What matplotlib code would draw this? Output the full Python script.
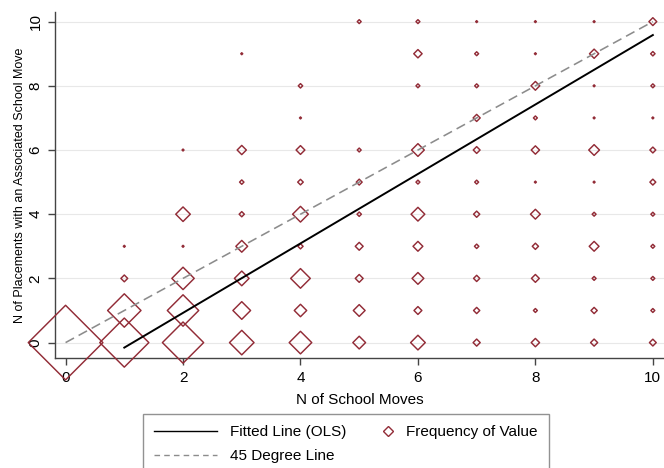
import numpy as np
import matplotlib
matplotlib.use("Agg")
import matplotlib.pyplot as plt
from matplotlib.lines import Line2D
from matplotlib.legend_handler import HandlerLine2D

plt.rcParams['font.family'] = ['Liberation Sans', 'DejaVu Sans']

# N of school moves, N of placements with an associated move, frequency (marker area)
school_moves = [0,
                1, 1, 1, 1,
                2, 2, 2, 2, 2, 2,
                3, 3, 3, 3, 3, 3, 3, 3,
                4, 4, 4, 4, 4, 4, 4, 4, 4,
                5, 5, 5, 5, 5, 5, 5, 5,
                6, 6, 6, 6, 6, 6, 6, 6, 6, 6,
                7, 7, 7, 7, 7, 7, 7, 7, 7, 7, 7,
                8, 8, 8, 8, 8, 8, 8, 8, 8, 8, 8,
                9, 9, 9, 9, 9, 9, 9, 9, 9, 9, 9,
                10, 10, 10, 10, 10, 10, 10, 10, 10, 10, 10]
placements = [0,
              0, 1, 2, 3,
              0, 1, 2, 3, 4, 6,
              0, 1, 2, 3, 4, 5, 6, 9,
              0, 1, 2, 3, 4, 5, 6, 7, 8,
              0, 1, 2, 3, 4, 5, 6, 10,
              0, 1, 2, 3, 4, 5, 6, 8, 9, 10,
              0, 1, 2, 3, 4, 5, 6, 7, 8, 9, 10,
              0, 1, 2, 3, 4, 5, 6, 7, 8, 9, 10,
              0, 1, 2, 3, 4, 5, 6, 7, 8, 9, 10,
              0, 1, 2, 3, 4, 5, 6, 7, 8, 9, 10]
frequency = [1444,
             625, 289, 12, 1,
             441, 256, 130, 1, 55, 1,
             156, 81, 56, 36, 7, 5, 22, 1,
             132, 40, 100, 7, 64, 8, 20, 1, 5,
             42, 36, 16, 16, 5, 9, 4, 4,
             56, 16, 36, 25, 49, 4, 42, 4, 18, 4,
             13, 10, 10, 5, 10, 4, 12, 13, 4, 4, 1,
             18, 4, 16, 10, 25, 1, 18, 4, 20, 1, 1,
             13, 10, 4, 25, 4, 1, 30, 1, 1, 22, 1,
             12, 4, 4, 4, 4, 9, 9, 1, 4, 5, 16]

# OLS fit
ols_intercept = -1.238
ols_slope = 1.082
fit_range = [1, 10]

marker_color = '#922C37'

fig = plt.figure(figsize=(6.64, 4.68), dpi=100)
ax = fig.add_axes([55 / 664, 1 - 358 / 468, 1 - 55 / 664, (358 - 12) / 468])

ax.set_xlim(-0.18, 10.19)
ax.set_ylim(-0.48, 10.3)

ax.grid(axis='y', color='#e8e8e8', linewidth=0.8)
ax.set_axisbelow(True)

ax.scatter(school_moves, placements, s=np.array(frequency) * 1.0, marker='D',
           facecolors='none', edgecolors=marker_color, linewidths=1.05,
           clip_on=False, zorder=3)

xf = np.array(fit_range)
ax.plot(xf, ols_intercept + ols_slope * xf, color='black', linewidth=1.4, zorder=4)
ax.plot([0, 10], [0, 10], color='#8c8c8c', linewidth=1.15, dashes=(6, 3.3), zorder=4)

ax.set_xticks(range(0, 11, 2))
ax.set_yticks(range(0, 11, 2))
ax.tick_params(axis='both', labelsize=11, length=5, width=1, color='#444444')
ax.tick_params(axis='x', pad=4)
ax.tick_params(axis='y', pad=4)
for lbl in ax.get_yticklabels():
    lbl.set_rotation(90)
    lbl.set_va('center')

for side in ['top', 'right']:
    ax.spines[side].set_visible(False)
for side in ['left', 'bottom']:
    ax.spines[side].set_color('#444444')
    ax.spines[side].set_linewidth(1)

ax.set_xlabel('N of School Moves', fontsize=11, labelpad=6)
ax.set_ylabel('N of Placements with an Associated School Move', fontsize=9, labelpad=2)


class RightMarker(HandlerLine2D):
    def get_xdata(self, legend, xdescent, ydescent, width, height, fontsize):
        x = -xdescent + width - 0.3 * fontsize
        return [x, x], [x]


h_fit = Line2D([], [], color='black', linewidth=1.0)
h_45 = Line2D([], [], color='#8c8c8c', linewidth=1.0, dashes=(4, 3))
h_freq = Line2D([], [], linestyle='none', marker='D', markersize=5,
                markerfacecolor='none', markeredgecolor=marker_color, markeredgewidth=1.0)

leg = fig.legend([h_fit, h_45, h_freq], ['Fitted Line (OLS)', '45 Degree Line', 'Frequency of Value'],
                 ncol=2, loc='upper left', bbox_to_anchor=(143 / 664, 1 - 414 / 468),
                 borderaxespad=0, fontsize=11, handlelength=4.1, handletextpad=0.85,
                 columnspacing=-1.06, borderpad=0.75, labelspacing=0.65,
                 fancybox=False, frameon=True, handler_map={h_freq: RightMarker()})
leg.get_frame().set_edgecolor('#777777')
leg.get_frame().set_linewidth(1.0)

fig.savefig('out.png', dpi=100)
